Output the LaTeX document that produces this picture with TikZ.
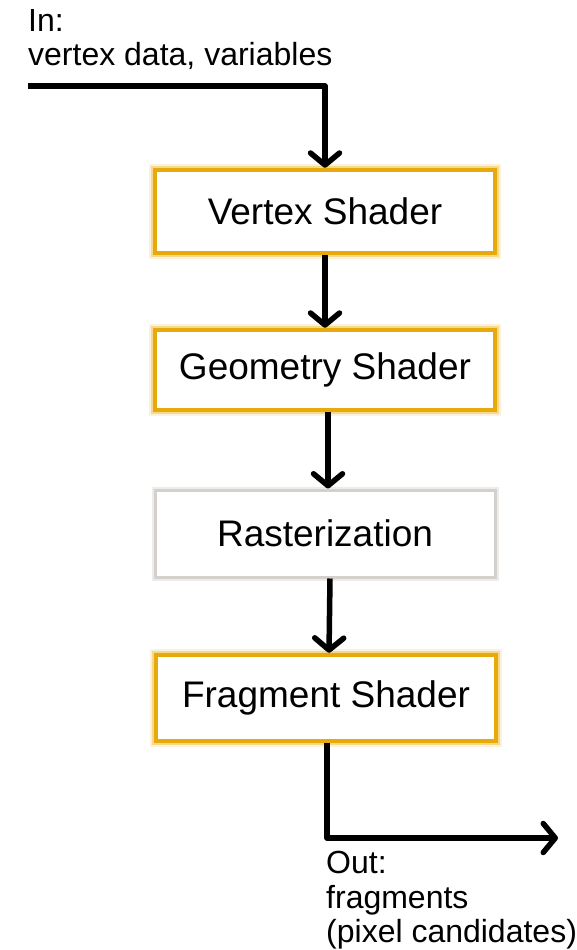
\documentclass[tikz,border=0pt]{standalone}
\usepackage{fontspec}
\setmainfont{Liberation Sans}
\usetikzlibrary{arrows.meta,calc}

\definecolor{shaderorange}{RGB}{232,170,10}
\definecolor{rastergray}{RGB}{212,208,204}

\begin{document}
\begin{tikzpicture}[x=1pt,y=-1pt,
  stagebox/.style={fill=white, minimum width=340pt, inner sep=0pt,
    font=\fontsize{37}{40}\selectfont},
  shaderbox/.style={stagebox, draw=shaderorange, line width=4.5pt,
    preaction={draw=shaderorange, line width=12pt, opacity=.15},
    preaction={draw=shaderorange, line width=8pt, opacity=.35}},
  fixedbox/.style={stagebox, draw=rastergray, line width=3pt,
    preaction={draw=rastergray, line width=7pt, opacity=.4}},
  flow/.style={line width=5.5pt, line join=round,
    -{Straight Barb[length=12pt,width=29pt,round]}},
  iolabel/.style={align=left, inner sep=0pt, anchor=north west,
    font=\fontsize{32}{34.5}\selectfont}
]
\useasboundingbox (0,0) rectangle (576,950);

% pipeline stages
\node[shaderbox, minimum height=83pt] (vs)  at (325,211.5) {Vertex Shader};
\node[shaderbox, minimum height=80pt] (gs)  at (325,370)   {Geometry Shader};
\node[fixedbox,  minimum height=87pt] (ras) at (325,533.5) {Rasterization};
\node[shaderbox, minimum height=86pt] (fs)  at (326,698)   {Fragment Shader};

% input and output labels
\node[iolabel] (inlbl)  at (28,9)    {In:\\vertex data, variables};
\node[iolabel] (outlbl) at (326,851) {Out:\\fragments\\(pixel candidates)};

% connectors
\coordinate (src) at (28,86);
\coordinate (sink) at (558,838);
\draw[flow] (src) -- (src -| vs.north) -- (vs.north);
\draw[flow] (vs.south) -- (vs.south |- gs.north);
\draw[flow] ($(gs.south)+(3,0)$) -- ($(gs.south |- ras.north)+(3,0)$);
\draw[flow] ($(ras.south)+(5,0)$) -- ($(ras.south |- fs.north)+(4,0)$);
\draw[flow] ($(fs.south)+(1,0)$) -- ($(fs.south |- sink)+(1,0)$) -- (sink);
\end{tikzpicture}
\end{document}
